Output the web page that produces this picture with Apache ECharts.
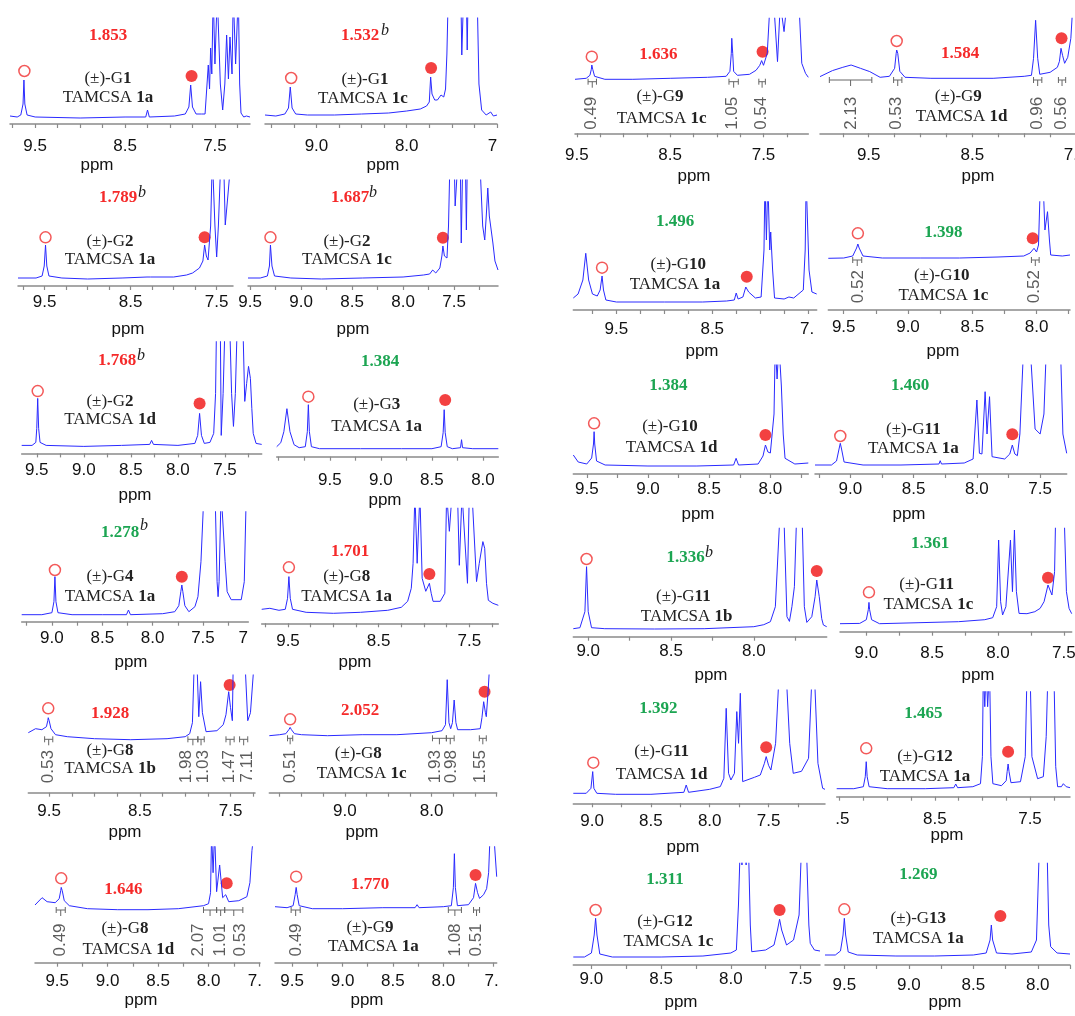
<!DOCTYPE html>
<html>
<head>
<meta charset="utf-8">
<title>1H NMR – TAMCSA</title>
<script src="https://cdn.jsdelivr.net/npm/echarts@6/dist/echarts.min.js"></script>
<style>
  html, body { margin: 0; padding: 0; background: #fff; }
  #chart { width: 1075px; height: 1016px; }
</style>
</head>
<body>
<div id="chart"></div>
<script>
// ---- spectra: [ppm, intensity] (intensity, arbitrary units) ----
const specG1_1a = [[9.78,8],[9.70,7],[9.66,9],[9.635,20],[9.625,44],[9.615,20],[9.59,9],[9.50,7],[9.0,6],[8.5,7],[8.27,7],[8.25,14],[8.23,7],[7.95,8],[7.83,10],[7.79,17],[7.77,39],[7.75,17],[7.71,10],[7.65,10],[7.63,11],[7.61,10],[7.59,12],[7.574,59],[7.56,35],[7.548,76],[7.535,50],[7.519,130],[7.50,60],[7.474,130],[7.44,40],[7.414,14],[7.39,40],[7.37,89],[7.35,45],[7.333,87],[7.31,50],[7.296,130],[7.27,60],[7.24,130],[7.225,40],[7.21,11],[7.18,7],[7.15,8],[7.11,7]]
const specG1_1c = [[9.57,9],[9.45,8],[9.35,10],[9.31,16],[9.29,37],[9.27,16],[9.23,10],[9.1,9],[8.8,9],[8.5,10],[8.2,11],[8.0,13],[7.85,15],[7.78,18],[7.75,22],[7.735,47],[7.72,30],[7.69,24],[7.66,24],[7.62,29],[7.59,27],[7.57,35],[7.555,70],[7.54,130],[7.40,130],[7.39,69],[7.37,130],[7.34,130],[7.33,74],[7.32,130],[7.22,130],[7.2,40],[7.17,14],[7.12,9],[7.07,12],[7.04,8],[7.0,9]]
const specG2_1a = [[9.81,8],[9.6,8],[9.53,10],[9.505,20],[9.49,41],[9.475,20],[9.45,10],[9.3,8],[9.0,7],[8.6,8],[8.31,9],[8.29,11],[8.27,9],[8.0,9],[7.85,11],[7.78,13],[7.70,18],[7.66,25],[7.64,41],[7.62,30],[7.60,26],[7.57,60],[7.55,130],[7.52,60],[7.50,29],[7.48,60],[7.45,130],[7.42,130],[7.40,61],[7.37,90],[7.33,130],[7.31,130]]
const specG2_1c = [[9.52,8],[9.40,8],[9.33,10],[9.31,20],[9.30,41],[9.285,20],[9.26,10],[9.1,8],[8.8,7],[8.4,8],[8.0,9],[7.80,11],[7.74,12],[7.71,16],[7.68,13],[7.64,18],[7.62,30],[7.61,40],[7.595,30],[7.57,28],[7.555,60],[7.54,130],[7.50,130],[7.49,80],[7.46,130],[7.44,130],[7.43,43],[7.415,130],[7.39,130],[7.38,56],[7.37,130],[7.25,130],[7.22,60],[7.20,46],[7.185,70],[7.17,98],[7.155,70],[7.12,43],[7.10,25],[7.07,16]]
const specG2_1d = [[9.66,8],[9.55,8],[9.51,11],[9.50,25],[9.49,55],[9.48,25],[9.465,11],[9.4,8],[9.0,7],[8.6,8],[8.30,9],[8.28,13],[8.26,9],[8.0,8],[7.82,10],[7.79,18],[7.77,40],[7.75,18],[7.72,10],[7.66,11],[7.62,20],[7.60,60],[7.59,130],[7.55,130],[7.54,18],[7.52,60],[7.50,130],[7.45,130],[7.43,60],[7.41,27],[7.39,60],[7.37,130],[7.31,130],[7.29,52],[7.27,70],[7.25,87],[7.23,75],[7.215,45],[7.20,20],[7.17,10],[7.11,9]]
const specG3_1a = [[10.02,10],[9.98,14],[9.95,25],[9.92,48],[9.89,25],[9.85,12],[9.80,9],[9.74,10],[9.72,25],[9.71,52],[9.70,25],[9.68,10],[9.6,8],[9.2,8],[8.8,8],[8.5,8],[8.41,10],[8.39,24],[8.38,47],[8.37,24],[8.35,10],[8.30,8],[8.22,9],[8.21,17],[8.20,9],[8.1,8],[7.85,8]]
const specG4_1a = [[9.30,7],[9.10,7],[9.00,9],[8.98,20],[8.97,45],[8.96,20],[8.94,9],[8.8,7],[8.5,7],[8.26,7],[8.24,11.7],[8.22,7],[7.9,8],[7.78,10],[7.74,16],[7.72,30],[7.71,36.7],[7.70,30],[7.68,16],[7.64,10],[7.58,15],[7.55,25],[7.52,60],[7.49,130],[7.38,130],[7.36,40],[7.35,25],[7.34,40],[7.32,130],[7.28,60],[7.26,30],[7.22,22],[7.12,22],[7.09,40],[7.07,130],[7.05,130]]
const specG8_1a = [[9.79,14],[9.70,15],[9.60,13],[9.53,14],[9.505,25],[9.49,46.7],[9.475,25],[9.45,14],[9.3,11],[9.0,10],[8.7,11],[8.4,13],[8.25,16],[8.18,22],[8.14,35],[8.12,60],[8.10,130],[8.075,60],[8.045,130],[8.02,45],[7.98,32],[7.96,34],[7.94,40],[7.92,30],[7.90,22],[7.82,22],[7.77,30],[7.75,130],[7.72,92],[7.69,130],[7.63,130],[7.61,58],[7.58,130],[7.56,130],[7.52,40],[7.50,130],[7.47,130],[7.42,41.7],[7.39,60],[7.35,81.7],[7.33,75],[7.31,40],[7.29,23],[7.24,20],[7.18,18]]
const specG8_1b = [[9.73,60],[9.65,64],[9.58,63],[9.53,66],[9.515,72],[9.51,75],[9.50,72],[9.48,64],[9.43,58],[9.3,56],[9.0,54],[8.6,53],[8.2,54],[8.0,56],[7.95,59],[7.92,70],[7.90,130],[7.87,130],[7.85,76],[7.83,111],[7.81,80],[7.77,61],[7.65,62],[7.58,68],[7.55,78],[7.52,101],[7.50,85],[7.48,72],[7.47,130],[7.34,130],[7.31,72],[7.28,80],[7.24,130],[7.23,130]]
const specG8_1c = [[9.87,57],[9.75,58],[9.68,59],[9.645,63],[9.63,65.3],[9.615,63],[9.58,59],[9.5,58],[9.2,57],[8.8,58],[8.4,58],[8.0,60],[7.88,62],[7.84,68],[7.82,113],[7.80,70],[7.78,64],[7.76,70],[7.74,92.7],[7.72,70],[7.70,63],[7.55,63],[7.44,64],[7.42,75],[7.40,91],[7.38,80],[7.37,76],[7.35,100],[7.33,130],[7.25,130]]
const specG8_1d = [[9.72,57.7],[9.65,65],[9.60,61],[9.52,60],[9.48,64],[9.465,72],[9.46,75.3],[9.45,72],[9.43,62],[9.38,57],[9.2,54],[8.9,53],[8.6,53],[8.3,54],[8.05,57],[8.0,59],[7.98,70],[7.97,130],[7.955,90],[7.94,130],[7.92,71],[7.89,97.7],[7.86,65],[7.83,68],[7.82,69.3],[7.80,61],[7.70,62],[7.62,66],[7.59,80],[7.57,112],[7.55,130],[7.49,130]]
const specG9_1a = [[9.67,56],[9.55,55],[9.49,57],[9.47,68],[9.46,75.3],[9.45,68],[9.43,57],[9.3,54],[9.0,54],[8.6,55],[8.28,55],[8.26,58],[8.24,55],[8.0,56],[7.92,57],[7.90,75],[7.89,109],[7.88,75],[7.86,57],[7.75,58],[7.70,65],[7.68,79.3],[7.66,70],[7.64,64.3],[7.60,68],[7.57,74],[7.55,90],[7.535,130],[7.50,130],[7.47,86]]
const specG9_1c = [[9.52,54],[9.40,55],[9.36,58],[9.345,64],[9.34,68.3],[9.33,64],[9.31,57],[9.2,54],[8.9,54],[8.5,55],[8.1,56],[7.90,57],[7.86,62],[7.845,80],[7.84,95],[7.83,80],[7.82,62],[7.78,58],[7.65,59],[7.58,63],[7.54,68],[7.52,72.7],[7.50,68],[7.49,68],[7.46,80],[7.43,130],[7.39,130],[7.35,71.7],[7.32,130],[7.28,101.7],[7.25,130],[7.12,130],[7.09,70],[7.05,60],[7.02,56]]
const specG9_1d = [[9.97,56.7],[9.85,62.7],[9.75,66],[9.67,68.3],[9.58,65],[9.49,61.7],[9.39,56],[9.30,57],[9.25,65],[9.235,80],[9.23,83.3],[9.22,80],[9.20,62],[9.15,56],[8.9,55],[8.6,55],[8.3,55],[8.0,57],[7.93,58],[7.91,75],[7.89,113],[7.88,113],[7.87,75],[7.85,59],[7.75,61],[7.68,66],[7.66,72],[7.645,85],[7.63,78],[7.61,70],[7.58,76],[7.55,95],[7.53,130],[7.51,130]]
const specG10_1a = [[9.95,12],[9.90,16],[9.85,30],[9.82,56.7],[9.79,30],[9.75,16],[9.70,14],[9.67,20],[9.65,34],[9.635,20],[9.61,10],[9.5,8],[9.0,8],[8.6,8],[8.35,9],[8.27,10],[8.25,17],[8.23,11],[8.18,13],[8.15,23],[8.14,25],[8.12,18],[8.05,12],[7.99,13],[7.96,60],[7.95,130],[7.935,70],[7.92,130],[7.90,60],[7.89,78],[7.87,40],[7.85,12],[7.75,11],[7.70,13],[7.65,12],[7.55,20],[7.53,60],[7.52,130],[7.51,130],[7.49,40],[7.46,18],[7.41,16]]
const specG10_1c = [[9.62,51.7],[9.50,52],[9.43,54],[9.40,62],[9.39,66],[9.38,62],[9.35,54],[9.2,52],[8.9,52],[8.6,52],[8.3,53],[8.1,54],[8.05,57],[8.02,61.7],[8.00,58],[7.985,65],[7.97,130],[7.95,130],[7.935,80],[7.915,98.3],[7.90,70],[7.89,55],[7.80,54],[7.74,55]]
const specG10_1d = [[9.61,19],[9.57,12],[9.50,10],[9.46,16],[9.445,30],[9.44,42.3],[9.435,30],[9.42,13],[9.35,9],[9.0,8],[8.6,8],[8.30,9],[8.28,15.7],[8.26,9],[8.1,10],[8.06,18],[8.04,29],[8.02,22],[8.00,21],[7.97,60],[7.96,130],[7.945,95],[7.93,130],[7.91,88],[7.895,40],[7.88,15.7],[7.80,10],[7.69,11]]
const specG11_1a = [[9.28,9],[9.15,9],[9.11,13],[9.09,25],[9.08,30.7],[9.07,25],[9.05,12],[8.9,9],[8.6,9],[8.30,10],[8.29,13.3],[8.28,10],[8.1,11],[8.03,15],[8.00,74],[7.98,20.7],[7.96,20],[7.935,82.3],[7.92,40],[7.90,77.3],[7.88,17.3],[7.78,15],[7.74,20],[7.72,29],[7.70,20],[7.68,18.3],[7.66,40],[7.63,130],[7.58,130],[7.54,45],[7.50,40],[7.47,60],[7.45,130],[7.34,130],[7.32,40],[7.29,20.7]]
const specG11_1b = [[9.09,8],[9.05,9],[9.02,25],[9.01,70],[9.00,25],[8.98,9],[8.9,8],[8.6,7.7],[8.3,8],[8.0,10],[7.94,12],[7.90,15],[7.87,30],[7.84,130],[7.82,130],[7.80,20],[7.785,15.3],[7.77,30],[7.755,50],[7.74,130],[7.71,130],[7.695,30],[7.68,14.3],[7.65,20],[7.63,40],[7.62,56.7],[7.605,40],[7.59,18],[7.58,11.7],[7.56,10]]
const specG11_1c = [[9.20,8],[9.05,8.3],[9.00,12],[8.985,22],[8.98,29.3],[8.975,22],[8.96,12],[8.9,8],[8.6,9],[8.3,10],[8.1,12],[8.04,14],[8.01,25],[7.995,91.7],[7.98,30],[7.965,16.7],[7.94,25],[7.905,91.7],[7.89,40],[7.875,101.7],[7.86,40],[7.84,18.3],[7.78,18],[7.72,20],[7.68,23.3],[7.65,30],[7.62,46.7],[7.59,36.7],[7.57,60],[7.56,130],[7.50,130],[7.48,40],[7.46,23.3],[7.44,18]]
const specG11_1d = [[9.16,10],[9.05,10],[9.01,15],[8.995,31.7],[8.985,15],[8.96,10],[8.8,9],[8.5,9],[8.22,11],[8.20,18.3],[8.18,11],[8.0,14],[7.91,16.7],[7.88,25],[7.86,95],[7.84,30],[7.82,23.3],[7.79,30],[7.77,91.7],[7.755,60],[7.74,110],[7.72,21.7],[7.62,26],[7.57,28.3],[7.535,40],[7.52,46.7],[7.50,38],[7.48,33.3],[7.44,60],[7.41,130],[7.35,130],[7.32,60],[7.29,30],[7.22,32],[7.16,45],[7.13,130],[7.11,130],[7.08,40],[7.04,15],[7.02,14]]
const specG12_1a = [[9.53,8],[9.35,8],[9.25,10],[9.23,20],[9.22,35],[9.21,20],[9.19,10],[9.0,8],[8.6,8],[8.30,9],[8.28,12.7],[8.26,9],[8.10,10],[8.02,13],[8.00,40],[7.99,130],[7.975,90],[7.96,130],[7.945,90],[7.925,130],[7.91,40],[7.89,13],[7.80,11],[7.75,16],[7.74,25],[7.73,32.7],[7.72,25],[7.70,14],[7.60,15],[7.55,40],[7.53,130],[7.50,130],[7.48,40],[7.42,18],[7.36,20],[7.33,60],[7.31,130],[7.25,130],[7.23,30],[7.21,10],[7.17,10],[7.15,13],[7.12,10],[7.08,9]]
const specG12_1c = [[9.13,8],[9.05,8],[9.00,12],[8.98,30],[8.97,46.7],[8.96,30],[8.94,11],[8.85,8],[8.5,8],[8.2,9],[8.0,12],[7.96,15],[7.945,60],[7.93,130],[7.92,100],[7.91,130],[7.89,100],[7.875,130],[7.86,40],[7.85,13.3],[7.75,15],[7.69,20],[7.665,35],[7.65,45.7],[7.635,35],[7.60,20],[7.55,25],[7.51,50],[7.49,130],[7.46,130],[7.44,40],[7.43,21.7],[7.40,15],[7.36,14]]
const specG13_1a = [[9.65,10],[9.57,10],[9.53,14],[9.51,30],[9.50,46.7],[9.49,30],[9.47,13],[9.4,10],[9.1,9],[8.8,9],[8.5,10],[8.40,12],[8.37,25],[8.36,40],[8.35,25],[8.32,12],[8.2,11],[8.05,13],[8.01,25],[7.985,130],[7.975,110],[7.96,130],[7.945,110],[7.93,130],[7.915,40],[7.90,18.3],[7.85,12],[7.75,11]]

const spectra = [specG1_1a, specG1_1c, specG2_1a, specG2_1c, specG2_1d, specG3_1a, specG4_1a, specG8_1a,
  specG8_1b, specG8_1c, specG8_1d, specG9_1a, specG9_1c, specG9_1d, specG10_1a, specG10_1c,
  specG10_1d, specG11_1a, specG11_1b, specG11_1c, specG11_1d, specG12_1a, specG12_1c, specG13_1a]

// ---- panel labels ----
const guests = ['1','1','2','2','2','3','4','8','8','8','8','9','9','9','10','10','10','11','11','11','11','12','12','13']
const salts = ['1a','1c','1a','1c','1d','1a','1a','1a','1b','1c','1d','1a','1c','1d','1a','1c','1d','1a','1b','1c','1d','1a','1c','1a']
const ratios = ['1.853','1.532','1.789','1.687','1.768','1.384','1.278','1.701','1.928','2.052','1.646','1.770',
  '1.636','1.584','1.496','1.398','1.384','1.460','1.336','1.361','1.392','1.465','1.311','1.269']
const ratioGreen = [0,0,0,0,0,1,1,0,0,0,0,0,0,0,1,1,1,1,1,1,1,1,1,1]
const footB = [0,1,1,1,1,0,1,0,0,0,0,0,0,0,0,0,0,0,1,0,0,0,0,0]

// x range of each panel [left ppm, right ppm]
const ppmRanges = [[9.78,7.11],[9.57,7.0],[9.81,7.31],[9.52,7.07],[9.66,7.11],[10.02,7.85],[9.30,7.05],[9.79,7.18],
  [9.73,7.23],[9.87,7.25],[9.72,7.49],[9.67,7.47],[9.52,7.02],[9.97,7.51],[9.95,7.41],[9.62,7.74],
  [9.61,7.69],[9.28,7.29],[9.09,7.56],[9.20,7.44],[9.16,7.02],[9.53,7.08],[9.13,7.36],[9.65,7.75]]

// tick labels [value, text]
const tickLabels = [
  [[9.5,'9.5'],[8.5,'8.5'],[7.5,'7.5']],
  [[9.0,'9.0'],[8.0,'8.0'],[7.05,'7']],
  [[9.5,'9.5'],[8.5,'8.5'],[7.5,'7.5']],
  [[9.5,'9.5'],[9.0,'9.0'],[8.5,'8.5'],[8.0,'8.0'],[7.5,'7.5']],
  [[9.5,'9.5'],[9.0,'9.0'],[8.5,'8.5'],[8.0,'8.0'],[7.5,'7.5']],
  [[9.5,'9.5'],[9.0,'9.0'],[8.5,'8.5'],[8.0,'8.0']],
  [[9.0,'9.0'],[8.5,'8.5'],[8.0,'8.0'],[7.5,'7.5'],[7.10,'7']],
  [[9.5,'9.5'],[8.5,'8.5'],[7.5,'7.5']],
  [[9.5,'9.5'],[8.5,'8.5'],[7.5,'7.5']],
  [[9.0,'9.0'],[8.0,'8.0']],
  [[9.5,'9.5'],[9.0,'9.0'],[8.5,'8.5'],[8.0,'8.0'],[7.54,'7.']],
  [[9.5,'9.5'],[9.0,'9.0'],[8.5,'8.5'],[8.0,'8.0'],[7.52,'7.']],
  [[9.5,'9.5'],[8.5,'8.5'],[7.5,'7.5']],
  [[9.5,'9.5'],[8.5,'8.5'],[7.55,'7.']],
  [[9.5,'9.5'],[8.5,'8.5'],[7.51,'7.']],
  [[9.5,'9.5'],[9.0,'9.0'],[8.5,'8.5'],[8.0,'8.0']],
  [[9.5,'9.5'],[9.0,'9.0'],[8.5,'8.5'],[8.0,'8.0']],
  [[9.0,'9.0'],[8.5,'8.5'],[8.0,'8.0'],[7.5,'7.5']],
  [[9.0,'9.0'],[8.5,'8.5'],[8.0,'8.0']],
  [[9.0,'9.0'],[8.5,'8.5'],[8.0,'8.0'],[7.5,'7.5']],
  [[9.0,'9.0'],[8.5,'8.5'],[8.0,'8.0'],[7.5,'7.5']],
  [[9.47,'.5'],[8.5,'8.5'],[7.5,'7.5']],
  [[9.0,'9.0'],[8.5,'8.5'],[8.0,'8.0'],[7.5,'7.5']],
  [[9.5,'9.5'],[9.0,'9.0'],[8.5,'8.5'],[8.0,'8.0']]
]

// signal markers [ppm, height]: open circle and filled circle
const openMarks = [[9.62,53],[9.28,46],[9.49,48.7],[9.30,48.7],[9.49,62.3],[9.71,60],[8.97,51.7],[9.49,56],
  [9.51,84.4],[9.63,73.4],[9.46,84.4],[9.46,86],[9.34,76.6],[9.23,92.3],[9.65,42.3],[9.39,76.7],
  [9.44,50.7],[9.08,38],[9.01,77.7],[8.98,39.4],[8.99,40.6],[9.22,48.4],[8.97,55],[9.50,55.7]]
const filledMarks = [[7.76,48],[7.73,56],[7.64,48.7],[7.61,48.3],[7.77,50],[8.37,56.7],[7.71,45],[7.94,49.3],
  [7.51,107.7],[7.39,101],[7.82,79.4],[7.68,87.7],[7.51,81.6],[7.64,95],[8.14,33.3],[8.03,71.7],
  [8.04,39],[7.72,39.7],[7.62,65.7],[7.62,54],[7.52,56],[7.73,45],[7.65,55],[8.29,49]]

// integrals [from ppm, to ppm, label ppm, value]
const integrals = {
  8: [[9.55,9.46,9.51,'0.53'],[7.97,7.86,7.99,'1.98'],[7.86,7.79,7.80,'1.03'],[7.55,7.46,7.51,'1.47'],[7.40,7.31,7.31,'7.11']],
  9: [[9.66,9.60,9.63,'0.51'],[7.99,7.83,7.96,'1.93'],[7.83,7.74,7.77,'0.98'],[7.45,7.37,7.44,'1.55']],
  10: [[9.51,9.42,9.47,'0.49'],[8.05,7.92,8.10,'2.07'],[7.92,7.84,7.88,'1.01'],[7.84,7.66,7.69,'0.53']],
  11: [[9.51,9.42,9.46,'0.49'],[7.95,7.82,7.88,'1.08'],[7.70,7.64,7.67,'0.51']],
  12: [[9.38,9.29,9.34,'0.49'],[7.87,7.77,7.83,'1.05'],[7.55,7.48,7.52,'0.54']],
  13: [[9.88,9.47,9.67,'2.13'],[9.26,9.18,9.23,'0.53'],[7.91,7.83,7.87,'0.96'],[7.67,7.60,7.64,'0.56']],
  15: [[9.43,9.36,9.39,'0.52'],[8.04,7.98,8.02,'0.52']]
}
// integral bracket height / label height in panel units
const integralY = {8:[53.4,26], 9:[54.4,26], 10:[52.7,22.7], 11:[52.7,22.7], 12:[51.6,20], 13:[53.3,20], 15:[50,23.3]}

// ---- layout (pixels) ----
const gridBoxes = [[10,18,240,106],[265,18,232,106],[18,180,215,106],[248,180,250,106],[21.7,341.7,240,111.7],
  [276.7,340,221.6,116.7],[21.7,511.7,226.6,110],[261.7,508.3,236.6,115],[28.3,675,226.7,117.7],[269.3,675,227.4,117.7],
  [35,846.7,225,116],[275,846.7,221.7,116],[575,18.3,233.3,115],[820,18.3,255,115],[573.3,201.7,243.4,108.3],
  [828.3,201.7,241.7,108.3],[573.3,365,235,109],[815,365,251.7,109],[573.3,528.3,253.4,108.4],[840,528.3,231.7,103.4],
  [573.3,690,251.7,113.3],[836.7,691.7,233.3,105],[573.3,863.3,246.7,101.7],[825,863.3,245,101.7]]
const labelOffset = [23,23,16.5,16.5,17,24,17,19,19,19,19.5,19.5,23,23,20,18,16,16,15,22,19,23,15,21]
const ratioPos = [[108,36],[360,36],[118,198],[350,198],[117,361],[380,361.7],[120,532.5],[350,551.7],[110,714],[360,710.7],
  [123.3,889.3],[370,885],[658.3,55],[960,53.3],[675,221.7],[943.3,232.7],[668.3,386],[910,386],[685.7,557.5],[930,543.3],
  [658.3,708.3],[923.3,713.3],[665,879.3],[918.3,875]]
const bPos = {1:[381,31], 2:[138,193], 3:[369,193], 4:[137,356], 6:[140,526], 18:[705,553]}
const guestPos = [[108,79],[365,80],[110,241.7],[347,241.7],[110,401.7],[376.7,405],[110,576.7],[346.7,576.7],[110,750.7],[358.3,753.3],
  [125,928.3],[370,927.3],[660,96.7],[958.3,96.7],[678.3,265],[941.7,276],[670,426.7],[913.3,429.3],[683.3,596.7],[926.7,585],
  [661.7,751.7],[925,756.7],[665,921.7],[918.3,918.3]]
const saltPos = [[108,98],[363,99],[110,260],[347,260],[110,420],[376.7,426.7],[110,596.7],[346.7,596.7],[110,768.3],[361.7,773.3],
  [128.3,950],[373.3,946.7],[661.7,118.3],[961.7,116.7],[675,285],[943.3,296],[671.7,447.3],[913.3,448.3],[686.7,616.7],[928.3,605],
  [661.7,775],[925,776.7],[668.3,941.7],[918.3,938.3]]
const ppmPos = [[97,165],[383,165],[128,329],[353,329],[135,495],[385,500],[131,662],[355,662],[125,832],[362,832],
  [141,1000],[367,1000],[694,176],[978,176],[702,351],[943,351],[698,514],[909,514],[711,675],[978,675],
  [683,847],[947,835],[681,1002],[945,1002]]

const RED = '#f52a2a'
const GREEN = '#1ca552'
const BLUE = '#2a2aff'
const AXIS = '#8a8a8a'
const SERIF = '"Liberation Serif", "Times New Roman", serif'
const SANS = '"Liberation Sans", Arial, sans-serif'

const chart = echarts.init(document.getElementById('chart'), null, { renderer: 'canvas' })

const option = { animation: false, grid: [], xAxis: [], yAxis: [], series: [], graphic: [] }

spectra.forEach((spec, i) => {
  const [left, top, width, height] = gridBoxes[i]
  const [hi, lo] = ppmRanges[i]
  const ticks = []
  for (let k = Math.ceil(lo * 4 - 1e-6); k <= Math.floor(hi * 4 + 1e-6); k++) ticks.push(k / 4)
  const labels = tickLabels[i]

  // 固定网格位置，不让 v6 自动收缩
  option.grid.push({ left, top, width, height, outerBoundsMode: 'none', containLabel: false })
  option.xAxis.push({
    type: 'value', gridIndex: i, min: lo, max: hi, inverse: true,
    axisLine: { show: true, onZero: false, lineStyle: { color: AXIS, width: 1.5 } },
    axisTick: { show: true, customValues: ticks, length: 4, lineStyle: { color: AXIS, width: 1.2 } },
    axisLabel: {
      show: true,
      customValues: labels.map((d) => d[0]),
      formatter: (v) => {
        const hit = labels.find((d) => Math.abs(d[0] - v) < 1e-6)
        return hit ? hit[1] : ''
      },
      margin: labelOffset[i] - 9,
      fontSize: 17, fontFamily: SANS, color: '#111',
    },
    splitLine: { show: false },
  })
  option.yAxis.push({ type: 'value', gridIndex: i, min: 0, max: height, show: false })

  // 谱线
  option.series.push({
    type: 'line', xAxisIndex: i, yAxisIndex: i, data: spec,
    symbol: 'none', clip: true, silent: true,
    lineStyle: { color: BLUE, width: 1 },
  })
  // 信号标记
  option.series.push({
    type: 'scatter', xAxisIndex: i, yAxisIndex: i, clip: false, silent: true,
    data: [
      { value: openMarks[i], symbolSize: 11, itemStyle: { color: '#fff', borderColor: '#f03030', borderWidth: 1.5 } },
      { value: filledMarks[i], symbolSize: 12, itemStyle: { color: '#f01212' } },
    ],
  })
  // 积分
  if (integrals[i]) {
    const [yb, yl] = integralY[i]
    option.series.push({
      type: 'custom', xAxisIndex: i, yAxisIndex: i, clip: false, silent: true,
      data: integrals[i].map((d) => [d[0], d[1], yb]),
      encode: { x: [0, 1], y: 2 },
      renderItem: (params, api) => {
        const a = api.coord([api.value(0), api.value(2)])
        const b = api.coord([api.value(1), api.value(2)])
        const m = (a[0] + b[0]) / 2
        const st = { stroke: '#666', lineWidth: 1 }
        return {
          type: 'group',
          children: [
            { type: 'line', shape: { x1: a[0], y1: a[1], x2: b[0], y2: b[1] }, style: st },
            { type: 'line', shape: { x1: a[0], y1: a[1] - 3, x2: a[0], y2: a[1] + 3 }, style: st },
            { type: 'line', shape: { x1: b[0], y1: b[1] - 3, x2: b[0], y2: b[1] + 3 }, style: st },
            { type: 'line', shape: { x1: m, y1: a[1], x2: m, y2: a[1] + 6 }, style: st },
          ],
        }
      },
    })
    option.series.push({
      type: 'scatter', xAxisIndex: i, yAxisIndex: i, clip: false, silent: true,
      symbolSize: 1, itemStyle: { color: 'rgba(0,0,0,0)' },
      data: integrals[i].map((d) => ({ name: d[3], value: [d[2], yl] })),
      label: { show: true, position: 'inside', rotate: 90, formatter: '{b}', fontSize: 17, fontFamily: SANS, color: '#333' },
    })
  }

  // 文本
  option.graphic.push({
    type: 'text', x: ratioPos[i][0], y: ratioPos[i][1], silent: true,
    style: { text: ratios[i], fill: ratioGreen[i] ? GREEN : RED, font: 'bold 17px ' + SERIF, align: 'center', verticalAlign: 'middle' },
  })
  if (footB[i]) {
    option.graphic.push({
      type: 'text', x: bPos[i][0], y: bPos[i][1], silent: true,
      style: { text: 'b', fill: '#222', font: 'italic 16px ' + SERIF, align: 'left', verticalAlign: 'middle' },
    })
  }
  option.graphic.push({
    type: 'text', x: guestPos[i][0], y: guestPos[i][1], silent: true,
    style: {
      text: '{r|(±)-G}{b|' + guests[i] + '}', align: 'center', verticalAlign: 'middle',
      rich: {
        r: { fontSize: 17, fontFamily: SERIF, fill: '#222' },
        b: { fontSize: 17, fontFamily: SERIF, fontWeight: 'bold', fill: '#222' },
      },
    },
  })
  option.graphic.push({
    type: 'text', x: saltPos[i][0], y: saltPos[i][1], silent: true,
    style: {
      text: '{r|TAMCSA }{b|' + salts[i] + '}', align: 'center', verticalAlign: 'middle',
      rich: {
        r: { fontSize: 17, fontFamily: SERIF, fill: '#222' },
        b: { fontSize: 17, fontFamily: SERIF, fontWeight: 'bold', fill: '#222' },
      },
    },
  })
  option.graphic.push({
    type: 'text', x: ppmPos[i][0], y: ppmPos[i][1], silent: true,
    style: { text: 'ppm', fill: '#111', font: '17px ' + SANS, align: 'center', verticalAlign: 'middle' },
  })
})

chart.setOption(option)
window.addEventListener('resize', () => chart.resize())
</script>
</body>
</html>
